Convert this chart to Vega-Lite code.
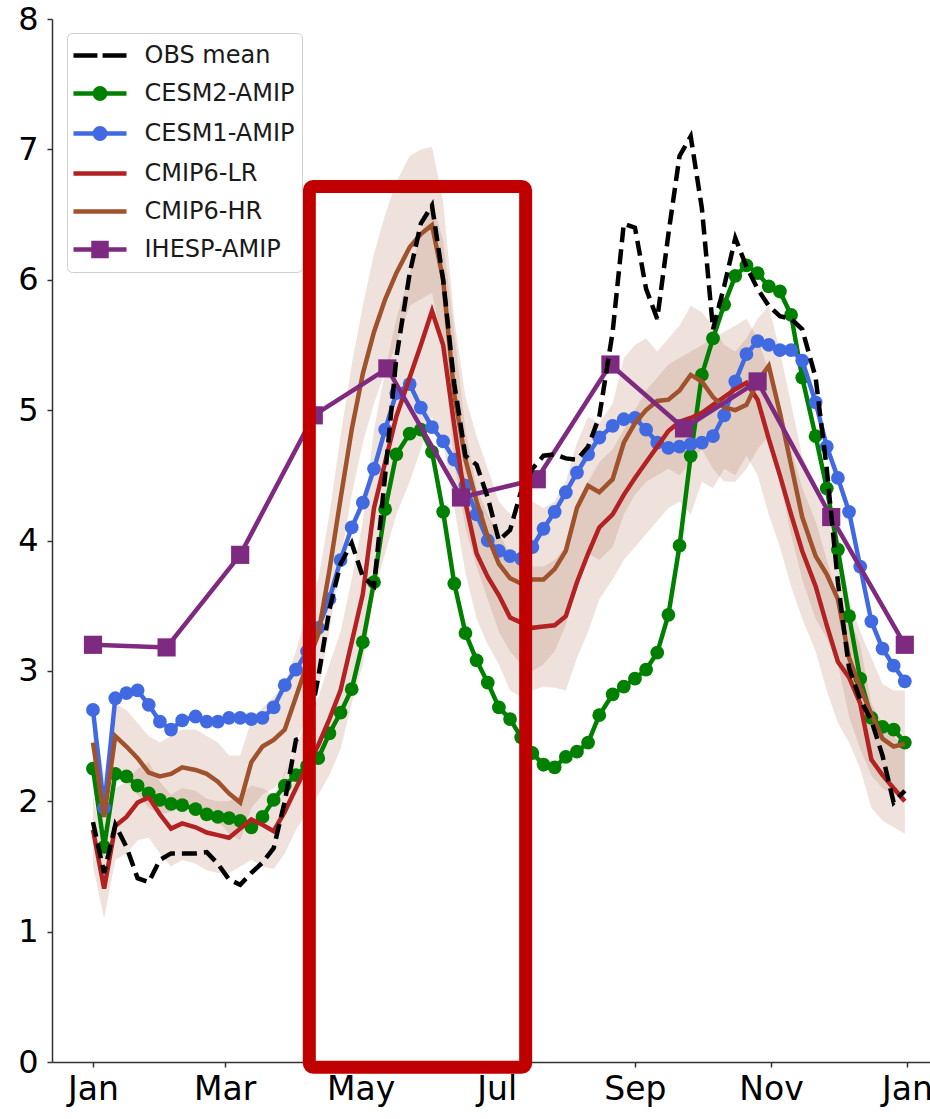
{
  "$schema": "https://vega.github.io/schema/vega-lite/v6.json",
  "width": 878,
  "height": 1043,
  "autosize": {"type": "none"},
  "padding": {"left": 52, "top": 19, "right": 0, "bottom": 57},
  "background": "white",
  "config": {
    "view": {"stroke": null},
    "font": "DejaVu Sans",
    "axis": {
      "domainColor": "#333333",
      "domainWidth": 1.5,
      "tickColor": "#333333",
      "tickWidth": 1.5,
      "tickSize": 5,
      "labelColor": "#000000",
      "labelFont": "DejaVu Sans",
      "grid": false
    }
  },
  "datasets": {
    "pentad": [
      {"date": "2001-01-01", "obs": 1.84, "cesm2": 2.25, "cesm1": 2.70, "lr": 1.78, "lr_lo": 1.50, "lr_hi": 2.05, "hr": 2.45, "hr_lo": 2.15, "hr_hi": 2.70},
      {"date": "2001-01-06", "obs": 1.45, "cesm2": 1.65, "cesm1": 1.95, "lr": 1.33, "lr_lo": 1.10, "lr_hi": 1.60, "hr": 1.88, "hr_lo": 1.55, "hr_hi": 2.20},
      {"date": "2001-01-11", "obs": 1.82, "cesm2": 2.21, "cesm1": 2.79, "lr": 1.81, "lr_lo": 1.55, "lr_hi": 2.10, "hr": 2.50, "hr_lo": 2.25, "hr_hi": 2.75},
      {"date": "2001-01-16", "obs": 1.65, "cesm2": 2.19, "cesm1": 2.83, "lr": 1.88, "lr_lo": 1.60, "lr_hi": 2.15, "hr": 2.42, "hr_lo": 2.15, "hr_hi": 2.70},
      {"date": "2001-01-21", "obs": 1.41, "cesm2": 2.12, "cesm1": 2.85, "lr": 1.99, "lr_lo": 1.70, "lr_hi": 2.25, "hr": 2.33, "hr_lo": 2.05, "hr_hi": 2.60},
      {"date": "2001-01-26", "obs": 1.38, "cesm2": 2.06, "cesm1": 2.74, "lr": 2.03, "lr_lo": 1.72, "lr_hi": 2.30, "hr": 2.22, "hr_lo": 1.95, "hr_hi": 2.50},
      {"date": "2001-01-31", "obs": 1.55, "cesm2": 2.01, "cesm1": 2.61, "lr": 1.90, "lr_lo": 1.60, "lr_hi": 2.15, "hr": 2.19, "hr_lo": 1.90, "hr_hi": 2.45},
      {"date": "2001-02-05", "obs": 1.60, "cesm2": 1.98, "cesm1": 2.55, "lr": 1.79, "lr_lo": 1.50, "lr_hi": 2.05, "hr": 2.21, "hr_lo": 1.92, "hr_hi": 2.50},
      {"date": "2001-02-10", "obs": 1.60, "cesm2": 1.97, "cesm1": 2.62, "lr": 1.83, "lr_lo": 1.55, "lr_hi": 2.10, "hr": 2.26, "hr_lo": 1.95, "hr_hi": 2.55},
      {"date": "2001-02-16", "obs": 1.60, "cesm2": 1.94, "cesm1": 2.65, "lr": 1.80, "lr_lo": 1.52, "lr_hi": 2.08, "hr": 2.24, "hr_lo": 1.95, "hr_hi": 2.55},
      {"date": "2001-02-21", "obs": 1.61, "cesm2": 1.90, "cesm1": 2.61, "lr": 1.76, "lr_lo": 1.47, "lr_hi": 2.02, "hr": 2.21, "hr_lo": 1.90, "hr_hi": 2.50},
      {"date": "2001-02-26", "obs": 1.52, "cesm2": 1.88, "cesm1": 2.61, "lr": 1.74, "lr_lo": 1.45, "lr_hi": 2.00, "hr": 2.15, "hr_lo": 1.85, "hr_hi": 2.45},
      {"date": "2001-03-03", "obs": 1.40, "cesm2": 1.87, "cesm1": 2.64, "lr": 1.72, "lr_lo": 1.45, "lr_hi": 2.00, "hr": 2.06, "hr_lo": 1.75, "hr_hi": 2.35},
      {"date": "2001-03-08", "obs": 1.36, "cesm2": 1.85, "cesm1": 2.64, "lr": 1.79, "lr_lo": 1.50, "lr_hi": 2.05, "hr": 1.99, "hr_lo": 1.70, "hr_hi": 2.35},
      {"date": "2001-03-13", "obs": 1.45, "cesm2": 1.80, "cesm1": 2.63, "lr": 1.86, "lr_lo": 1.55, "lr_hi": 2.12, "hr": 2.30, "hr_lo": 1.95, "hr_hi": 2.62},
      {"date": "2001-03-18", "obs": 1.53, "cesm2": 1.88, "cesm1": 2.64, "lr": 1.82, "lr_lo": 1.50, "lr_hi": 2.10, "hr": 2.42, "hr_lo": 2.05, "hr_hi": 2.72},
      {"date": "2001-03-23", "obs": 1.64, "cesm2": 2.01, "cesm1": 2.72, "lr": 1.77, "lr_lo": 1.48, "lr_hi": 2.05, "hr": 2.47, "hr_lo": 2.10, "hr_hi": 2.80},
      {"date": "2001-03-28", "obs": 2.00, "cesm2": 2.12, "cesm1": 2.89, "lr": 1.92, "lr_lo": 1.60, "lr_hi": 2.22, "hr": 2.55, "hr_lo": 2.20, "hr_hi": 2.90},
      {"date": "2001-04-02", "obs": 2.47, "cesm2": 2.20, "cesm1": 3.01, "lr": 2.10, "lr_lo": 1.78, "lr_hi": 2.42, "hr": 2.80, "hr_lo": 2.45, "hr_hi": 3.15},
      {"date": "2001-04-07", "obs": 2.50, "cesm2": 2.27, "cesm1": 3.15, "lr": 2.27, "lr_lo": 1.92, "lr_hi": 2.62, "hr": 3.05, "hr_lo": 2.65, "hr_hi": 3.45},
      {"date": "2001-04-12", "obs": 2.95, "cesm2": 2.33, "cesm1": 3.33, "lr": 2.43, "lr_lo": 2.05, "lr_hi": 2.80, "hr": 3.28, "hr_lo": 2.85, "hr_hi": 3.70},
      {"date": "2001-04-17", "obs": 3.47, "cesm2": 2.52, "cesm1": 3.55, "lr": 2.63, "lr_lo": 2.20, "lr_hi": 3.05, "hr": 3.77, "hr_lo": 3.30, "hr_hi": 4.20},
      {"date": "2001-04-22", "obs": 3.82, "cesm2": 2.68, "cesm1": 3.85, "lr": 2.85, "lr_lo": 2.40, "lr_hi": 3.30, "hr": 4.32, "hr_lo": 3.85, "hr_hi": 4.80},
      {"date": "2001-04-27", "obs": 3.98, "cesm2": 2.86, "cesm1": 4.10, "lr": 3.22, "lr_lo": 2.75, "lr_hi": 3.70, "hr": 4.85, "hr_lo": 4.35, "hr_hi": 5.35},
      {"date": "2001-05-02", "obs": 3.72, "cesm2": 3.22, "cesm1": 4.29, "lr": 3.59, "lr_lo": 3.05, "lr_hi": 4.15, "hr": 5.28, "hr_lo": 4.75, "hr_hi": 5.80},
      {"date": "2001-05-07", "obs": 3.65, "cesm2": 3.68, "cesm1": 4.55, "lr": 4.25, "lr_lo": 3.60, "lr_hi": 4.85, "hr": 5.60, "hr_lo": 5.05, "hr_hi": 6.20},
      {"date": "2001-05-12", "obs": 4.50, "cesm2": 4.24, "cesm1": 4.85, "lr": 4.60, "lr_lo": 3.90, "lr_hi": 5.30, "hr": 5.85, "hr_lo": 5.30, "hr_hi": 6.50},
      {"date": "2001-05-17", "obs": 5.40, "cesm2": 4.66, "cesm1": 5.13, "lr": 4.95, "lr_lo": 4.20, "lr_hi": 5.70, "hr": 6.05, "hr_lo": 5.50, "hr_hi": 6.75},
      {"date": "2001-05-23", "obs": 6.05, "cesm2": 4.82, "cesm1": 5.20, "lr": 5.25, "lr_lo": 4.45, "lr_hi": 6.05, "hr": 6.25, "hr_lo": 5.80, "hr_hi": 6.95},
      {"date": "2001-05-28", "obs": 6.43, "cesm2": 4.85, "cesm1": 5.02, "lr": 5.50, "lr_lo": 4.70, "lr_hi": 6.35, "hr": 6.35, "hr_lo": 5.85, "hr_hi": 7.00},
      {"date": "2001-06-02", "obs": 6.57, "cesm2": 4.68, "cesm1": 4.87, "lr": 5.76, "lr_lo": 4.95, "lr_hi": 6.60, "hr": 6.42, "hr_lo": 5.90, "hr_hi": 7.02},
      {"date": "2001-06-07", "obs": 6.00, "cesm2": 4.22, "cesm1": 4.76, "lr": 5.50, "lr_lo": 4.75, "lr_hi": 6.30, "hr": 6.00, "hr_lo": 5.50, "hr_hi": 6.60},
      {"date": "2001-06-12", "obs": 5.20, "cesm2": 3.67, "cesm1": 4.62, "lr": 4.88, "lr_lo": 4.25, "lr_hi": 5.60, "hr": 5.12, "hr_lo": 4.60, "hr_hi": 5.70},
      {"date": "2001-06-17", "obs": 4.65, "cesm2": 3.29, "cesm1": 4.42, "lr": 4.29, "lr_lo": 3.75, "lr_hi": 4.85, "hr": 4.62, "hr_lo": 4.10, "hr_hi": 5.10},
      {"date": "2001-06-22", "obs": 4.58, "cesm2": 3.08, "cesm1": 4.20, "lr": 3.90, "lr_lo": 3.40, "lr_hi": 4.40, "hr": 4.30, "hr_lo": 3.80, "hr_hi": 4.80},
      {"date": "2001-06-27", "obs": 4.33, "cesm2": 2.91, "cesm1": 4.00, "lr": 3.72, "lr_lo": 3.20, "lr_hi": 4.20, "hr": 4.03, "hr_lo": 3.55, "hr_hi": 4.55},
      {"date": "2001-07-02", "obs": 4.00, "cesm2": 2.72, "cesm1": 3.92, "lr": 3.58, "lr_lo": 3.05, "lr_hi": 4.05, "hr": 3.82, "hr_lo": 3.30, "hr_hi": 4.30},
      {"date": "2001-07-07", "obs": 4.08, "cesm2": 2.63, "cesm1": 3.88, "lr": 3.41, "lr_lo": 2.85, "lr_hi": 3.90, "hr": 3.71, "hr_lo": 3.15, "hr_hi": 4.20},
      {"date": "2001-07-12", "obs": 4.38, "cesm2": 2.49, "cesm1": 3.86, "lr": 3.37, "lr_lo": 2.80, "lr_hi": 3.85, "hr": 3.67, "hr_lo": 3.05, "hr_hi": 4.15},
      {"date": "2001-07-17", "obs": 4.55, "cesm2": 2.37, "cesm1": 3.95, "lr": 3.33, "lr_lo": 2.85, "lr_hi": 3.80, "hr": 3.70, "hr_lo": 3.00, "hr_hi": 4.30},
      {"date": "2001-07-22", "obs": 4.65, "cesm2": 2.28, "cesm1": 4.09, "lr": 3.34, "lr_lo": 2.88, "lr_hi": 3.80, "hr": 3.70, "hr_lo": 3.05, "hr_hi": 4.25},
      {"date": "2001-07-27", "obs": 4.66, "cesm2": 2.26, "cesm1": 4.22, "lr": 3.35, "lr_lo": 2.87, "lr_hi": 3.85, "hr": 3.78, "hr_lo": 3.15, "hr_hi": 4.30},
      {"date": "2001-08-01", "obs": 4.63, "cesm2": 2.34, "cesm1": 4.37, "lr": 3.42, "lr_lo": 2.85, "lr_hi": 3.95, "hr": 3.92, "hr_lo": 3.35, "hr_hi": 4.45},
      {"date": "2001-08-06", "obs": 4.62, "cesm2": 2.38, "cesm1": 4.52, "lr": 3.68, "lr_lo": 3.10, "lr_hi": 4.20, "hr": 4.25, "hr_lo": 3.70, "hr_hi": 4.75},
      {"date": "2001-08-11", "obs": 4.72, "cesm2": 2.45, "cesm1": 4.66, "lr": 3.90, "lr_lo": 3.30, "lr_hi": 4.45, "hr": 4.42, "hr_lo": 3.90, "hr_hi": 4.95},
      {"date": "2001-08-16", "obs": 4.95, "cesm2": 2.66, "cesm1": 4.79, "lr": 4.10, "lr_lo": 3.55, "lr_hi": 4.60, "hr": 4.37, "hr_lo": 3.85, "hr_hi": 4.90},
      {"date": "2001-08-22", "obs": 5.60, "cesm2": 2.82, "cesm1": 4.88, "lr": 4.20, "lr_lo": 3.70, "lr_hi": 4.70, "hr": 4.47, "hr_lo": 3.95, "hr_hi": 5.05},
      {"date": "2001-08-27", "obs": 6.43, "cesm2": 2.88, "cesm1": 4.93, "lr": 4.35, "lr_lo": 3.85, "lr_hi": 4.85, "hr": 4.75, "hr_lo": 4.20, "hr_hi": 5.40},
      {"date": "2001-09-01", "obs": 6.40, "cesm2": 2.94, "cesm1": 4.94, "lr": 4.48, "lr_lo": 3.95, "lr_hi": 5.00, "hr": 4.90, "hr_lo": 4.35, "hr_hi": 5.50},
      {"date": "2001-09-06", "obs": 5.93, "cesm2": 3.01, "cesm1": 4.85, "lr": 4.60, "lr_lo": 4.05, "lr_hi": 5.15, "hr": 5.00, "hr_lo": 4.45, "hr_hi": 5.55},
      {"date": "2001-09-11", "obs": 5.70, "cesm2": 3.14, "cesm1": 4.75, "lr": 4.72, "lr_lo": 4.15, "lr_hi": 5.25, "hr": 5.07, "hr_lo": 4.50, "hr_hi": 5.45},
      {"date": "2001-09-16", "obs": 6.35, "cesm2": 3.43, "cesm1": 4.71, "lr": 4.84, "lr_lo": 4.25, "lr_hi": 5.35, "hr": 5.08, "hr_lo": 4.55, "hr_hi": 5.55},
      {"date": "2001-09-21", "obs": 6.95, "cesm2": 3.96, "cesm1": 4.72, "lr": 4.91, "lr_lo": 4.30, "lr_hi": 5.40, "hr": 5.15, "hr_lo": 4.50, "hr_hi": 5.65},
      {"date": "2001-09-26", "obs": 7.10, "cesm2": 4.65, "cesm1": 4.74, "lr": 4.94, "lr_lo": 4.20, "lr_hi": 5.45, "hr": 5.27, "hr_lo": 4.60, "hr_hi": 5.80},
      {"date": "2001-10-01", "obs": 6.55, "cesm2": 5.27, "cesm1": 4.75, "lr": 4.98, "lr_lo": 4.45, "lr_hi": 5.50, "hr": 5.22, "hr_lo": 4.70, "hr_hi": 5.75},
      {"date": "2001-10-06", "obs": 5.62, "cesm2": 5.55, "cesm1": 4.80, "lr": 5.04, "lr_lo": 4.40, "lr_hi": 5.55, "hr": 5.10, "hr_lo": 4.55, "hr_hi": 5.65},
      {"date": "2001-10-11", "obs": 5.95, "cesm2": 5.81, "cesm1": 4.96, "lr": 5.10, "lr_lo": 4.55, "lr_hi": 5.60, "hr": 5.02, "hr_lo": 4.45, "hr_hi": 5.50},
      {"date": "2001-10-16", "obs": 6.32, "cesm2": 6.03, "cesm1": 5.22, "lr": 5.16, "lr_lo": 4.50, "lr_hi": 5.65, "hr": 5.00, "hr_lo": 4.45, "hr_hi": 5.45},
      {"date": "2001-10-21", "obs": 6.10, "cesm2": 6.11, "cesm1": 5.43, "lr": 5.21, "lr_lo": 4.65, "lr_hi": 5.70, "hr": 5.04, "hr_lo": 4.55, "hr_hi": 5.55},
      {"date": "2001-10-26", "obs": 5.93, "cesm2": 6.05, "cesm1": 5.53, "lr": 5.08, "lr_lo": 4.50, "lr_hi": 5.55, "hr": 5.22, "hr_lo": 4.70, "hr_hi": 5.70},
      {"date": "2001-10-31", "obs": 5.80, "cesm2": 5.95, "cesm1": 5.50, "lr": 4.78, "lr_lo": 4.20, "lr_hi": 5.30, "hr": 5.34, "hr_lo": 4.80, "hr_hi": 5.80},
      {"date": "2001-11-05", "obs": 5.72, "cesm2": 5.91, "cesm1": 5.46, "lr": 4.50, "lr_lo": 3.95, "lr_hi": 5.00, "hr": 4.98, "hr_lo": 4.45, "hr_hi": 5.45},
      {"date": "2001-11-10", "obs": 5.70, "cesm2": 5.73, "cesm1": 5.46, "lr": 4.20, "lr_lo": 3.65, "lr_hi": 4.70, "hr": 4.58, "hr_lo": 4.05, "hr_hi": 5.05},
      {"date": "2001-11-15", "obs": 5.62, "cesm2": 5.25, "cesm1": 5.38, "lr": 3.92, "lr_lo": 3.40, "lr_hi": 4.40, "hr": 4.18, "hr_lo": 3.70, "hr_hi": 4.65},
      {"date": "2001-11-21", "obs": 5.25, "cesm2": 4.80, "cesm1": 5.06, "lr": 3.65, "lr_lo": 3.15, "lr_hi": 4.15, "hr": 3.88, "hr_lo": 3.40, "hr_hi": 4.40},
      {"date": "2001-11-26", "obs": 4.55, "cesm2": 4.40, "cesm1": 4.72, "lr": 3.35, "lr_lo": 2.85, "lr_hi": 3.85, "hr": 3.74, "hr_lo": 3.25, "hr_hi": 4.20},
      {"date": "2001-12-01", "obs": 3.68, "cesm2": 3.93, "cesm1": 4.48, "lr": 3.07, "lr_lo": 2.60, "lr_hi": 3.55, "hr": 3.55, "hr_lo": 3.05, "hr_hi": 4.00},
      {"date": "2001-12-06", "obs": 3.02, "cesm2": 3.42, "cesm1": 4.22, "lr": 2.95, "lr_lo": 2.45, "lr_hi": 3.40, "hr": 3.10, "hr_lo": 2.65, "hr_hi": 3.55},
      {"date": "2001-12-11", "obs": 2.78, "cesm2": 2.94, "cesm1": 3.80, "lr": 2.75, "lr_lo": 2.25, "lr_hi": 3.20, "hr": 2.87, "hr_lo": 2.40, "hr_hi": 3.30},
      {"date": "2001-12-16", "obs": 2.62, "cesm2": 2.64, "cesm1": 3.38, "lr": 2.32, "lr_lo": 1.95, "lr_hi": 2.75, "hr": 2.67, "hr_lo": 2.20, "hr_hi": 3.10},
      {"date": "2001-12-21", "obs": 2.35, "cesm2": 2.57, "cesm1": 3.17, "lr": 2.20, "lr_lo": 1.85, "lr_hi": 2.60, "hr": 2.48, "hr_lo": 2.10, "hr_hi": 2.90},
      {"date": "2001-12-26", "obs": 1.99, "cesm2": 2.55, "cesm1": 3.04, "lr": 2.10, "lr_lo": 1.80, "lr_hi": 2.50, "hr": 2.42, "hr_lo": 2.05, "hr_hi": 2.85},
      {"date": "2001-12-31", "obs": 2.08, "cesm2": 2.45, "cesm1": 2.92, "lr": 2.00, "lr_lo": 1.75, "lr_hi": 2.40, "hr": 2.44, "hr_lo": 2.05, "hr_hi": 2.85}
    ],
    "monthly": [
      {"date": "2001-01-01", "ihesp": 3.20},
      {"date": "2001-02-03", "ihesp": 3.18},
      {"date": "2001-03-08", "ihesp": 3.89},
      {"date": "2001-04-10", "ihesp": 4.96},
      {"date": "2001-05-13", "ihesp": 5.32},
      {"date": "2001-06-15", "ihesp": 4.33},
      {"date": "2001-07-19", "ihesp": 4.47},
      {"date": "2001-08-21", "ihesp": 5.35},
      {"date": "2001-09-23", "ihesp": 4.86},
      {"date": "2001-10-26", "ihesp": 5.22},
      {"date": "2001-11-28", "ihesp": 4.18},
      {"date": "2001-12-31", "ihesp": 3.20}
    ],
    "highlight": [
      {"date": "2001-04-08", "date_end": "2001-07-14", "low": -0.04, "high": 6.715}
    ]
  },
  "layer": [
    {
      "data": {"name": "pentad"},
      "mark": {"type": "area", "color": "#a0522d", "opacity": 0.17},
      "encoding": {
        "x": {
          "field": "date",
          "type": "temporal",
          "title": null,
          "scale": {
            "type": "utc",
            "domain": [
              {"year": 2000, "month": 12, "date": 13, "hours": 15, "utc": true},
              {"year": 2002, "month": 1, "date": 11, "hours": 7, "utc": true}
            ]
          },
          "axis": {
            "values": [
              {"year": 2001, "month": 1, "date": 1, "utc": true},
              {"year": 2001, "month": 3, "date": 1, "utc": true},
              {"year": 2001, "month": 5, "date": 1, "utc": true},
              {"year": 2001, "month": 7, "date": 1, "utc": true},
              {"year": 2001, "month": 9, "date": 1, "utc": true},
              {"year": 2001, "month": 11, "date": 1, "utc": true},
              {"year": 2002, "month": 1, "date": 1, "utc": true}
            ],
            "format": "%b",
            "labelFontSize": 33,
            "labelPadding": 6,
            "labelOverlap": false,
            "labelFlush": false
          }
        },
        "y": {
          "field": "lr_lo",
          "type": "quantitative",
          "title": null,
          "scale": {"domain": [0, 8], "nice": false, "zero": false},
          "axis": {
            "values": [0, 1, 2, 3, 4, 5, 6, 7, 8],
            "format": "d",
            "labelFontSize": 32,
            "labelPadding": 9,
            "labelFlush": false,
            "labelOverlap": false
          }
        },
        "y2": {"field": "lr_hi"}
      }
    },
    {
      "data": {"name": "pentad"},
      "mark": {"type": "area", "color": "#a0522d", "opacity": 0.17},
      "encoding": {
        "x": {"field": "date", "type": "temporal"},
        "y": {"field": "hr_lo", "type": "quantitative", "title": null},
        "y2": {"field": "hr_hi"}
      }
    },
    {
      "data": {"name": "pentad"},
      "mark": {"type": "line", "strokeWidth": 4.5, "point": {"filled": true, "size": 190, "opacity": 1}},
      "encoding": {
        "x": {"field": "date", "type": "temporal"},
        "y": {"field": "cesm2", "type": "quantitative", "title": null},
        "color": {
          "datum": "CESM2-AMIP",
          "type": "nominal",
          "scale": {
            "domain": ["OBS mean", "CESM2-AMIP", "CESM1-AMIP", "CMIP6-LR", "CMIP6-HR", "IHESP-AMIP"],
            "range": ["#000000", "#008000", "#4169e1", "#b22222", "#a0522d", "#7e2a80"]
          },
          "legend": {
            "title": null,
            "orient": "none",
            "legendX": 15,
            "legendY": 14,
            "padding": 7,
            "rowPadding": 10,
            "fillColor": "rgba(255,255,255,0.85)",
            "strokeColor": "#d0d0d0",
            "cornerRadius": 5,
            "labelFont": "DejaVu Sans",
            "labelFontSize": 24,
            "labelColor": "#1a1a1a",
            "labelOffset": 29,
            "symbolSize": 676,
            "symbolOffset": 10.5,
            "symbolStrokeWidth": 4,
            "symbolType": "M-2.04,0H2.04",
            "encode": {
              "symbols": {
                "update": {
                  "shape": {"signal": "datum.value === 'OBS mean' ? 'M-2.04,0H-0.2M0.2,0H2.04' : (datum.value === 'CESM2-AMIP' || datum.value === 'CESM1-AMIP') ? 'M-2.04,0H2.04M0.4,0A0.4,0.4 0 1 1 -0.4,0A0.4,0.4 0 1 1 0.4,0Z' : datum.value === 'IHESP-AMIP' ? 'M-2.04,0H2.04M-0.5,-0.5H0.5V0.5H-0.5Z' : 'M-2.04,0H2.04'"},
                  "fill": {"signal": "scale('color', datum.value)"},
                  "stroke": {"signal": "scale('color', datum.value)"},
                  "strokeWidth": {"value": 4.5},
                  "opacity": {"value": 1}
                }
              }
            }
          }
        }
      }
    },
    {
      "data": {"name": "pentad"},
      "mark": {"type": "line", "strokeWidth": 4.5, "point": {"filled": true, "size": 190, "opacity": 1}},
      "encoding": {
        "x": {"field": "date", "type": "temporal"},
        "y": {"field": "cesm1", "type": "quantitative", "title": null},
        "color": {"datum": "CESM1-AMIP", "type": "nominal"}
      }
    },
    {
      "data": {"name": "pentad"},
      "mark": {"type": "line", "strokeWidth": 4.5},
      "encoding": {
        "x": {"field": "date", "type": "temporal"},
        "y": {"field": "lr", "type": "quantitative", "title": null},
        "color": {"datum": "CMIP6-LR", "type": "nominal"}
      }
    },
    {
      "data": {"name": "pentad"},
      "mark": {"type": "line", "strokeWidth": 4.5},
      "encoding": {
        "x": {"field": "date", "type": "temporal"},
        "y": {"field": "hr", "type": "quantitative", "title": null},
        "color": {"datum": "CMIP6-HR", "type": "nominal"}
      }
    },
    {
      "data": {"name": "monthly"},
      "mark": {"type": "line", "strokeWidth": 4.5, "point": {"filled": true, "shape": "square", "size": 330, "opacity": 1}},
      "encoding": {
        "x": {"field": "date", "type": "temporal"},
        "y": {"field": "ihesp", "type": "quantitative", "title": null},
        "color": {"datum": "IHESP-AMIP", "type": "nominal"}
      }
    },
    {
      "data": {"name": "pentad"},
      "mark": {"type": "line", "strokeWidth": 4.5, "strokeDash": [15, 7]},
      "encoding": {
        "x": {"field": "date", "type": "temporal"},
        "y": {"field": "obs", "type": "quantitative", "title": null},
        "color": {"datum": "OBS mean", "type": "nominal"}
      }
    },
    {
      "mark": {"type": "rule", "color": "#333333", "strokeWidth": 1.5},
      "encoding": {
        "y": {"datum": 8, "type": "quantitative"}
      }
    },
    {
      "data": {"name": "highlight"},
      "mark": {"type": "rect", "filled": false, "stroke": "#c00000", "strokeWidth": 13, "cornerRadius": 4, "strokeOpacity": 1},
      "encoding": {
        "x": {"field": "date", "type": "temporal"},
        "x2": {"field": "date_end"},
        "y": {"field": "low", "type": "quantitative", "title": null},
        "y2": {"field": "high"}
      }
    }
  ]
}
